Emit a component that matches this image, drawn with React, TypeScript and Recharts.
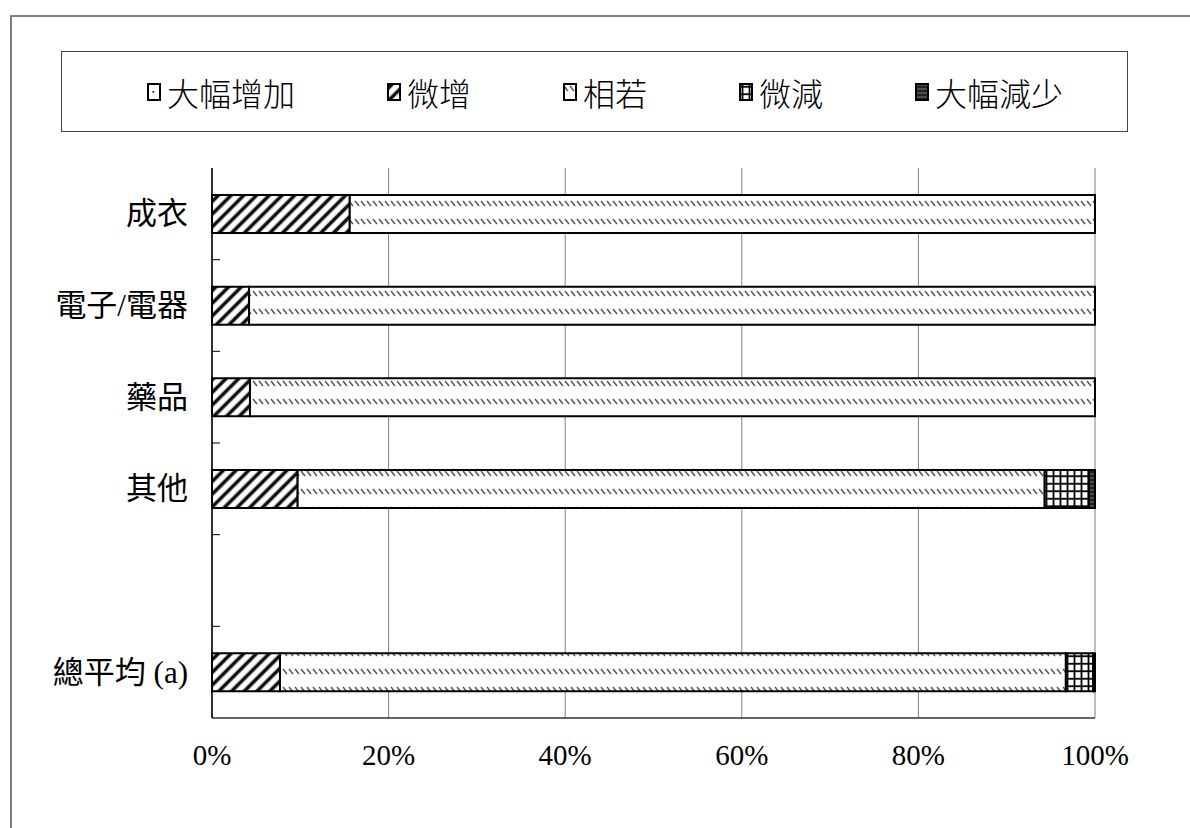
import React from "react";
import { BarChart, Bar, XAxis, YAxis, CartesianGrid } from "recharts";

// categories top to bottom (one blank slot before the total row)
const categories = ["成衣", "電子/電器", "藥品", "其他", "", "總平均 (a)"];

// shares in percent
const bigIncrease = [0, 0, 0, 0, null, 0];
const slightIncrease = [15.6, 4.2, 4.3, 9.7, null, 7.7];
const same = [84.4, 95.8, 95.7, 84.6, null, 89.0];
const slightDecrease = [0, 0, 0, 5.0, null, 3.1];
const bigDecrease = [0, 0, 0, 0.7, null, 0.2];

const xTicks = [0, 20, 40, 60, 80, 100];

const seriesNames = ["大幅增加", "微增", "相若", "微減", "大幅減少"];
const seriesKeys = ["bigInc", "slightInc", "same", "slightDec", "bigDec"];
const patternIds = ["pBigInc", "pSlightInc", "pSame", "pSlightDec", "pBigDec"];

const data = categories.map((name, i) => ({
  name,
  bigInc: bigIncrease[i],
  slightInc: slightIncrease[i],
  same: same[i],
  slightDec: slightDecrease[i],
  bigDec: bigDecrease[i],
}));

const W = 1190;
const H = 828;
const margin = { top: 168, right: 95, bottom: 50, left: 12 };
const Y_W = 200;
const X_H = 60;
const PLOT_LEFT = margin.left + Y_W;
const STEP = (H - margin.top - margin.bottom - X_H) / categories.length;

const FONT = "'Liberation Serif', 'Noto Sans CJK TC', serif";

function Patterns() {
  return (
    <svg width={0} height={0} style={{ position: "absolute" }}>
      <defs>
        <pattern id="pBigInc" width="12" height="16" patternUnits="userSpaceOnUse">
          <rect width="12" height="16" fill="#fff" />
          <rect x="5.5" y="8" width="1.6" height="1.6" fill="#000" />
        </pattern>
        <pattern
          id="pSlightInc"
          width="9"
          height="9"
          patternUnits="userSpaceOnUse"
          patternTransform="rotate(45)"
        >
          <rect width="9" height="9" fill="#fff" />
          <line x1="4.5" y1="0" x2="4.5" y2="9" stroke="#111" strokeWidth="3.6" />
        </pattern>
        <pattern id="pSame" width="6" height="18" patternUnits="userSpaceOnUse">
          <rect width="6" height="18" fill="#fff" />
          <line x1="1" y1="3" x2="5" y2="8" stroke="#555" strokeWidth="1.5" />
        </pattern>
        <pattern id="pSlightDec" width="7" height="7.5" patternUnits="userSpaceOnUse">
          <rect width="7" height="7.5" fill="#fff" />
          <line x1="3.5" y1="0" x2="3.5" y2="7.5" stroke="#000" strokeWidth="1.8" />
          <line x1="0" y1="3.75" x2="7" y2="3.75" stroke="#000" strokeWidth="1.8" />
        </pattern>
        <pattern id="pBigDec" width="4" height="4" patternUnits="userSpaceOnUse">
          <rect width="4" height="4" fill="#222" />
          <line x1="0" y1="2" x2="4" y2="2" stroke="#777" strokeWidth="1" />
        </pattern>
      </defs>
    </svg>
  );
}

function CategoryTick(props: any) {
  const { x, y, payload, index } = props;
  return (
    <g>
      {index > 0 && (
        <line
          x1={PLOT_LEFT}
          x2={PLOT_LEFT + 8}
          y1={y - STEP / 2}
          y2={y - STEP / 2}
          stroke="#000"
          strokeWidth={1}
        />
      )}
      <text
        x={x - 16}
        y={y}
        textAnchor="end"
        dominantBaseline="central"
        fontSize={31}
        fontFamily={FONT}
        fill="#000"
      >
        {payload.value}
      </text>
    </g>
  );
}

function LegendBox() {
  return (
    <div
      style={{
        position: "absolute",
        left: 61,
        top: 51,
        width: 1067,
        height: 81,
        border: "1px solid #444",
        boxSizing: "border-box",
        display: "flex",
        alignItems: "center",
        paddingLeft: 85,
        gap: 92,
        fontFamily: "'Noto Sans CJK TC', sans-serif",
        fontSize: 32,
        fontWeight: 300,
      }}
    >
      {seriesNames.map((n, i) => (
        <span key={n} style={{ display: "flex", alignItems: "center", gap: 6 }}>
          <svg width={14} height={18}>
            <rect
              x={1}
              y={1}
              width={12}
              height={16}
              fill={`url(#${patternIds[i]})`}
              stroke="#000"
              strokeWidth={2}
            />
          </svg>
          <span>{n}</span>
        </span>
      ))}
    </div>
  );
}

export default function App() {
  return (
    <div style={{ position: "absolute", left: 0, top: 0, width: W, height: H, background: "#fff", overflow: "hidden" }}>
      <Patterns />
      <div
        style={{
          position: "absolute",
          left: 10,
          top: 15,
          width: 1300,
          height: 900,
          border: "2px solid #808080",
        }}
      />
      <LegendBox />
      <div style={{ position: "absolute", left: 0, top: 0 }}>
        <BarChart width={W} height={H} data={data} layout="vertical" margin={margin} barSize={38}>
          <CartesianGrid horizontal={false} stroke="#808080" />
          <XAxis
            type="number"
            domain={[0, 100]}
            ticks={xTicks}
            tickFormatter={(v) => `${v}%`}
            height={X_H}
            tickLine={false}
            axisLine={{ stroke: "#333", strokeWidth: 1.5 }}
            tickMargin={20}
            tick={{ fontSize: 29, fontFamily: FONT, fill: "#000" }}
          />
          <XAxis
            xAxisId="top"
            orientation="top"
            type="number"
            domain={[0, 100]}
            height={0}
            tick={false}
            tickLine={false}
            axisLine={{ stroke: "#555", strokeWidth: 1.5 }}
          />
          <YAxis
            type="category"
            dataKey="name"
            width={Y_W}
            tickLine={false}
            axisLine={{ stroke: "#000", strokeWidth: 1.5 }}
            tick={<CategoryTick />}
            interval={0}
          />
          {seriesKeys.map((k, i) => (
            <Bar
              key={k}
              dataKey={k}
              name={seriesNames[i]}
              stackId="a"
              fill={`url(#${patternIds[i]})`}
              stroke="#000"
              strokeWidth={2}
              isAnimationActive={false}
            />
          ))}
        </BarChart>
      </div>
    </div>
  );
}
